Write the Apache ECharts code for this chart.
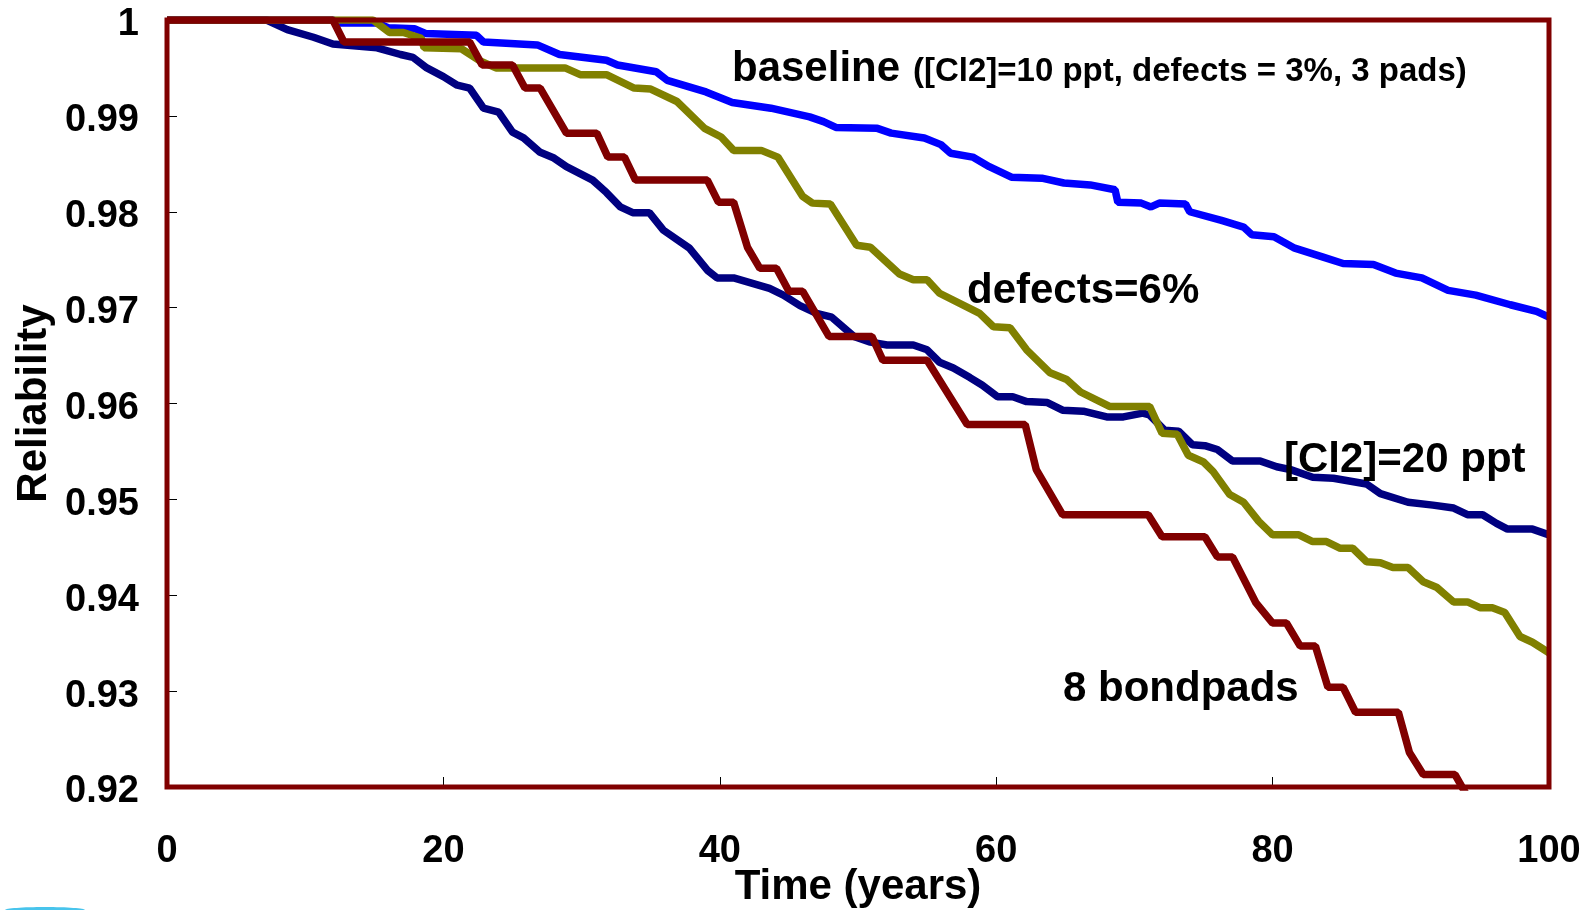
<!DOCTYPE html>
<html>
<head>
<meta charset="utf-8">
<script src="https://cdn.jsdelivr.net/npm/echarts@6.0.0/dist/echarts.min.js"></script>
<style>
html,body{margin:0;padding:0;background:#fff}
#main{width:1587px;height:910px}
</style>
</head>
<body>
<div id="main"></div>
<script>
// reliability vs time, [year, reliability]
var baseline = [[0,1],[12,1],[12.5,0.9997],[15.2,0.9997],[16,0.9992],[17.9,0.9991],[18.7,0.9986],[22.4,0.9984],[22.9,0.9977],[26.8,0.9974],[28.4,0.9964],[31.8,0.9958],[32.6,0.9953],[35.4,0.9946],[36.2,0.9937],[39,0.9925],[40.9,0.9914],[43.7,0.9908],[46.5,0.9899],[47.5,0.9894],[48.4,0.9888],[51.4,0.9887],[52.4,0.9882],[54.8,0.9877],[56,0.987],[56.7,0.9861],[58.3,0.9857],[59.5,0.9847],[61.1,0.9836],[63.3,0.9835],[64.9,0.983],[66.8,0.9828],[68.6,0.9823],[68.8,0.981],[70.5,0.9809],[71.2,0.9805],[71.8,0.9809],[73.7,0.9808],[74,0.98],[76.3,0.9791],[77.9,0.9784],[78.5,0.9776],[80.1,0.9774],[81.6,0.9762],[83.6,0.9753],[85.1,0.9746],[87.3,0.9745],[88.9,0.9736],[90.8,0.9731],[92.7,0.9718],[94.7,0.9713],[97.2,0.9703],[99.1,0.9696],[100,0.969]];
var cl2_20 = [[0,1],[7.2,1],[8.7,0.999],[10.6,0.9982],[12,0.9975],[15.2,0.9971],[16.9,0.9964],[17.8,0.9961],[18.8,0.995],[20,0.9941],[21,0.9932],[21.9,0.9929],[22.9,0.9908],[24,0.9904],[25,0.9883],[25.8,0.9877],[27,0.9862],[28,0.9856],[28.9,0.9847],[30.8,0.9833],[31.8,0.982],[32.8,0.9805],[33.7,0.9799],[34.9,0.9799],[35.9,0.9781],[37.8,0.9762],[39.1,0.9739],[39.8,0.9731],[41,0.9731],[43.6,0.972],[44.6,0.9713],[45.8,0.9702],[47,0.9694],[48.1,0.969],[49.7,0.967],[50.9,0.9664],[52.1,0.9661],[54,0.9661],[55,0.9656],[55.9,0.9643],[56.9,0.9637],[58.1,0.9627],[59,0.9619],[60.1,0.9607],[61.2,0.9607],[62.2,0.9602],[63.7,0.9601],[64.8,0.9593],[66.3,0.9592],[68,0.9586],[69.2,0.9586],[70.6,0.959],[71.1,0.9588],[72.2,0.9572],[73.2,0.9571],[74.2,0.9557],[75.1,0.9556],[76,0.9552],[77.1,0.954],[79.1,0.954],[80.3,0.9534],[81.3,0.9531],[82.9,0.9523],[84.4,0.9522],[86.8,0.9516],[87.8,0.9506],[89.8,0.9497],[91.6,0.9494],[93.1,0.9491],[94.1,0.9484],[95.2,0.9484],[96.2,0.9475],[97,0.9469],[98.8,0.9469],[100,0.9463]];
var defects6 = [[0,1],[14.9,1],[16.1,0.9987],[17.1,0.9987],[18.4,0.9981],[18.6,0.9971],[21.3,0.997],[22.7,0.9957],[23.8,0.995],[28.8,0.995],[29.9,0.9943],[31.8,0.9943],[33.8,0.9929],[35,0.9928],[36.9,0.9915],[38.9,0.9887],[40.1,0.9878],[41,0.9864],[43,0.9864],[44.2,0.9857],[46,0.9816],[46.7,0.9809],[48,0.9808],[49.9,0.9765],[50.9,0.9763],[53,0.9735],[54,0.9729],[55,0.9729],[55.9,0.9715],[58.8,0.9694],[59.8,0.968],[61,0.9679],[62.2,0.9656],[63.9,0.9632],[65.1,0.9625],[66.1,0.9612],[68.2,0.9597],[71.1,0.9597],[72,0.9569],[73.1,0.9568],[73.9,0.9546],[75,0.9539],[75.7,0.9529],[76.9,0.9505],[77.9,0.9497],[79,0.9477],[80,0.9463],[81.9,0.9463],[82.9,0.9456],[83.9,0.9456],[84.9,0.9449],[85.8,0.9449],[86.8,0.9435],[87.8,0.9434],[88.7,0.9429],[89.8,0.9429],[90.9,0.9414],[91.9,0.9408],[93.1,0.9393],[94.1,0.9393],[95,0.9387],[95.9,0.9387],[96.8,0.9382],[97.9,0.9357],[98.8,0.9351],[100,0.934]];
var pads8 = [[0,1],[12,1],[12.8,0.9977],[21.9,0.9977],[22.8,0.9953],[25,0.9953],[25.9,0.9929],[27,0.9929],[28.9,0.9882],[31.1,0.9882],[31.9,0.9857],[33.1,0.9857],[33.9,0.9833],[39.1,0.9833],[39.9,0.981],[41,0.981],[42,0.9763],[42.9,0.9741],[44.1,0.9741],[45,0.9717],[46,0.9717],[47.9,0.967],[51,0.967],[51.8,0.9645],[55,0.9645],[57.9,0.9578],[62.1,0.9578],[62.9,0.9531],[64.8,0.9484],[71,0.9484],[72,0.9461],[75.1,0.9461],[76,0.944],[77.1,0.944],[78.8,0.9392],[80,0.9371],[81,0.9371],[82,0.9347],[83.1,0.9347],[84,0.9304],[85.1,0.9304],[86,0.9278],[89.1,0.9278],[89.9,0.9236],[90.9,0.9213],[93.2,0.9213],[94.3,0.9185]];

var font = 'Liberation Sans, Arial, sans-serif';

var myChart = echarts.init(document.getElementById('main'));

function curve(name, data, color) {
    return {
        name: name,
        type: 'line',
        data: data,
        symbol: 'none',
        clip: true,
        lineStyle: { color: color, width: 7.5 },
        itemStyle: { color: color }
    };
}

var option = {
    backgroundColor: '#fff',
    animation: false,
    grid: {
        left: 167, right: 38, top: 20, bottom: 123,
        outerBoundsMode: 'none',
        show: true,
        z: 5,
        backgroundColor: 'transparent',
        borderColor: '#800000',
        borderWidth: 5
    },
    xAxis: {
        type: 'value',
        min: 0, max: 100, interval: 20,
        name: 'Time (years)',
        nameLocation: 'middle',
        nameGap: 79,
        nameMoveOverlap: false,
        nameTextStyle: { fontFamily: font, fontWeight: 'bold', fontSize: 42, color: '#000' },
        axisLine: { show: true, lineStyle: { color: '#000', width: 1 } },
        axisTick: { show: true, inside: true, length: 10, lineStyle: { color: '#000', width: 1 } },
        axisLabel: { fontFamily: font, fontWeight: 'bold', fontSize: 38, color: '#000', margin: 46 },
        splitLine: { show: false }
    },
    yAxis: {
        type: 'value',
        min: 0.92, max: 1, interval: 0.01,
        name: 'Reliability',
        nameLocation: 'middle',
        nameGap: 112,
        nameMoveOverlap: false,
        nameTextStyle: { fontFamily: font, fontWeight: 'bold', fontSize: 42, color: '#000' },
        axisLine: { show: true, lineStyle: { color: '#000', width: 1 } },
        axisTick: { show: true, inside: true, length: 10, lineStyle: { color: '#000', width: 1 } },
        axisLabel: {
            color: '#000', margin: 28,
            formatter: function (v) { return '{v|' + (+v.toFixed(2)) + '}'; },
            rich: {
                v: { fontFamily: font, fontWeight: 'bold', fontSize: 38, color: '#000', padding: [10, 0, 0, 0] }
            }
        },
        splitLine: { show: false }
    },
    series: [
        curve('[Cl2]=20 ppt', cl2_20, '#000080'),
        curve('baseline', baseline, '#0000ff'),
        curve('defects=6%', defects6, '#808000'),
        curve('8 bondpads', pads8, '#800000')
    ],
    graphic: [
        { type: 'text', left: 732, top: 48, z: 10,
          style: { text: 'baseline', font: 'bold 42px ' + font, fill: '#000' } },
        { type: 'text', left: 913, top: 55, z: 10,
          style: { text: '([Cl2]=10 ppt, defects = 3%, 3 pads)', font: 'bold 33px ' + font, fill: '#000' } },
        { type: 'text', left: 967, top: 270, z: 10,
          style: { text: 'defects=6%', font: 'bold 42px ' + font, fill: '#000' } },
        { type: 'text', left: 1284, top: 439, z: 10,
          style: { text: '[Cl2]=20 ppt', font: 'bold 42px ' + font, fill: '#000' } },
        { type: 'text', left: 1063, top: 668, z: 10,
          style: { text: '8 bondpads', font: 'bold 42px ' + font, fill: '#000' } },
        { type: 'ellipse', shape: { cx: 45, cy: 910, rx: 40, ry: 3 }, z: 10,
          style: { fill: '#48c4ec' } }
    ]
};
myChart.setOption(option);
</script>
</body>
</html>
